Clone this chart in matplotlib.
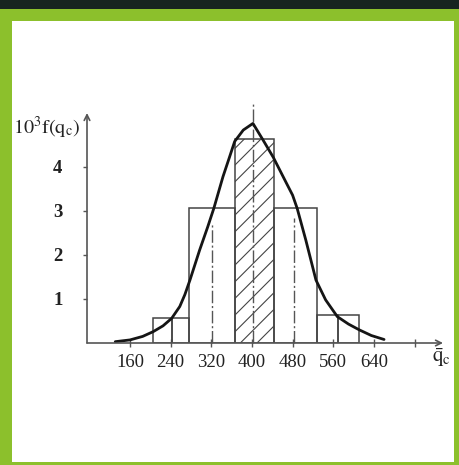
import matplotlib
matplotlib.use("Agg")
import matplotlib.pyplot as plt
from matplotlib.patches import Rectangle

# ---- data ----
bin_edges = [206, 242, 277, 367, 444, 528, 570, 610]
bin_heights = [0.56, 0.56, 3.06, 4.63, 3.06, 0.64, 0.64]
hatched_bin = 3

curve_x = [131, 160, 185, 206, 225, 242, 258, 268, 278, 297, 313, 325, 343, 356, 366,
           383, 402, 422, 442, 468, 480, 489, 506, 526, 545, 568, 590, 611, 635, 660]
curve_y = [0.03, 0.07, 0.15, 0.26, 0.39, 0.56, 0.83, 1.10, 1.43, 2.11, 2.64, 3.06,
           3.78, 4.23, 4.58, 4.84, 4.99, 4.61, 4.22, 3.63, 3.36, 3.06, 2.34, 1.43,
           0.98, 0.60, 0.43, 0.30, 0.17, 0.08]

dash_x = [322, 402, 482]
dash_top = [2.73, 5.45, 2.84]

xticks = [160, 240, 320, 400, 480, 560, 640]
xtick_labels = ["160", "240", "320", "400", "480", "560", "640"]
extra_xtick = [720]
yticks = [1, 2, 3, 4]
ytick_labels = ["1", "2", "3", "4"]

plt.rcParams['mathtext.fontset'] = 'stix'
plt.rcParams['hatch.linewidth'] = 0.8
plt.rcParams['hatch.color'] = '#555555'

W, H = 459, 465
fig = plt.figure(figsize=(W / 100, H / 100), dpi=100)
fig.patch.set_facecolor('white')

def px_rect(x0, y0, x1, y1, color):
    fig.patches.append(Rectangle((x0 / W, 1 - y1 / H), (x1 - x0) / W, (y1 - y0) / H,
                                 transform=fig.transFigure, facecolor=color,
                                 edgecolor='none', zorder=-10))

green = '#8cc02c'
px_rect(0, 0, W, 9, '#17241f')
px_rect(0, 9, W, 21, green)
px_rect(0, 9, 12, H, green)
px_rect(454, 9, W, H, green)
px_rect(0, 462, W, H, green)

ax_l, ax_r, ax_b, ax_t = 87, 443, 343, 113
ax = fig.add_axes([ax_l / W, 1 - ax_b / H, (ax_r - ax_l) / W, (ax_b - ax_t) / H])
ax.set_facecolor('none')
ax.set_xlim(75.4, 776)
ax.set_ylim(0, 5.227)
for s in ax.spines.values():
    s.set_visible(False)

line_c = '#444444'
# bars
for i, h in enumerate(bin_heights):
    x0, x1 = bin_edges[i], bin_edges[i + 1]
    ax.bar(x0, h, width=x1 - x0, align='edge', facecolor='none',
           edgecolor=line_c, linewidth=1.1,
           hatch='//' if i == hatched_bin else None, zorder=2)

# dash-dot lines
for x, t in zip(dash_x, dash_top):
    ax.plot([x, x], [0, t], color='#555555', lw=1.0,
            linestyle=(0, (9, 2, 1.5, 2)), clip_on=False, zorder=2)

# curve
ax.plot(curve_x, curve_y, color='#151515', lw=2.0, zorder=3,
        solid_capstyle='round', solid_joinstyle='round')

# axes with arrows
ax.annotate('', xy=(1, 0), xytext=(0, 0), xycoords='axes fraction',
            arrowprops=dict(arrowstyle='->', color='#555555', lw=1.2,
                            shrinkA=0, shrinkB=0, mutation_scale=10))
ax.annotate('', xy=(0, 1), xytext=(0, 0), xycoords='axes fraction',
            arrowprops=dict(arrowstyle='->', color='#555555', lw=1.2,
                            shrinkA=0, shrinkB=0, mutation_scale=10))

ax.set_xticks(xticks + extra_xtick)
ax.set_xticklabels(xtick_labels + [""])
ax.set_yticks(yticks)
ax.set_yticklabels(ytick_labels)
ax.tick_params(axis='x', direction='inout', length=6, width=1.0, color='#555555',
               pad=5, labelsize=13.5)
ax.tick_params(axis='y', direction='out', length=3, width=1.0, color='#555555',
               pad=18, labelsize=13.5)
for lab in ax.get_xticklabels():
    lab.set_fontfamily('Liberation Serif')
    lab.set_color('#222222')
for lab in ax.get_yticklabels():
    lab.set_fontfamily('Liberation Serif')
    lab.set_fontweight('bold')
    lab.set_color('#222222')
    lab.set_horizontalalignment('center')

fig.text(13 / W, 1 - 128 / H, r'$10^3\mathrm{f(q_c)}$', fontsize=14.5,
         ha='left', va='center', color='#222222')
fig.text(441 / W, 1 - 358 / H, r'$\bar{\mathrm{q}}_\mathrm{c}$', fontsize=15,
         ha='center', va='center', color='#222222')

fig.savefig('out.png', dpi=100)
